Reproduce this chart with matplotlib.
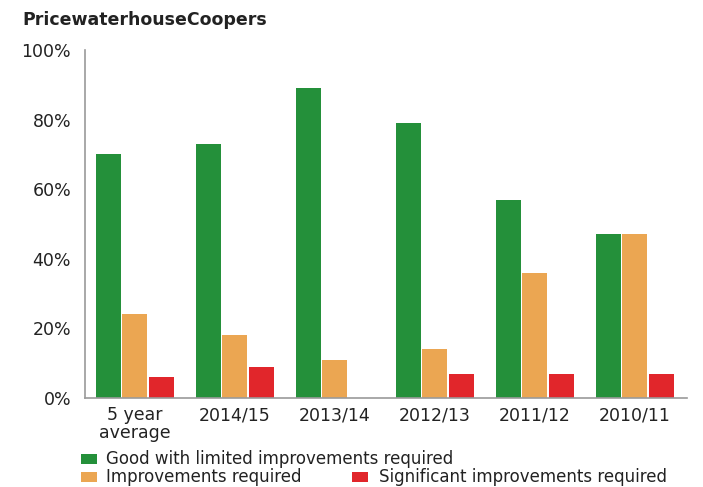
import matplotlib
matplotlib.use("Agg")
import matplotlib.pyplot as plt
from matplotlib.patches import Rectangle
import numpy as np

# Audit outcome shares by period
categories = ["5 year\naverage", "2014/15", "2013/14", "2012/13", "2011/12", "2010/11"]
good_limited = [70, 73, 89, 79, 57, 47]
improvements = [24, 18, 11, 14, 36, 47]
significant = [6, 9, 0, 7, 7, 7]
series_labels = [
    "Good with limited improvements required",
    "Improvements required",
    "Significant improvements required",
]
y_ticks = [0, 20, 40, 60, 80, 100]

colors = ["#24903A", "#EBA652", "#E1262B"]
text_color = "#222222"

plt.rcParams["font.family"] = ["DejaVu Sans"]

fig = plt.figure(figsize=(7.03, 4.87), dpi=100)
ax = fig.add_axes([0.1209, 0.1828, 0.8563, 0.7145])

x = np.arange(len(categories))
width = 0.25
offsets = [-0.265, 0.0, 0.265]
for vals, off, col in zip([good_limited, improvements, significant], offsets, colors):
    ax.bar(x + off, vals, width=width, color=col, edgecolor="none")

ax.set_xlim(-0.5, 5.52)
ax.set_ylim(0, 100)
ax.set_yticks(y_ticks)
ax.set_yticklabels([f"{v}%" for v in y_ticks])
ax.set_xticks(x)
ax.set_xticklabels(categories, linespacing=0.95)
ax.tick_params(axis="both", length=0, labelsize=12.5, colors=text_color)
ax.tick_params(axis="y", pad=10)
ax.tick_params(axis="x", pad=6)
for side in ["top", "right"]:
    ax.spines[side].set_visible(False)
for side in ["left", "bottom"]:
    ax.spines[side].set_color("#9a9a9a")
    ax.spines[side].set_linewidth(1.2)

fig.text(22 / 703, 1 - 20 / 487, "PricewaterhouseCoopers", fontsize=12.5,
         fontweight="bold", color=text_color, va="center", ha="left")

# Legend laid out as in a flowing key: one item on the first row, two on the second
W, H = 703, 487
items = [
    (81, 459, 106, colors[0], series_labels[0]),
    (81, 477, 106, colors[1], series_labels[1]),
    (352, 477, 379, colors[2], series_labels[2]),
]
for sx, sy, tx, col, lab in items:
    fig.patches.append(Rectangle((sx / W, 1 - (sy + 5) / H), 16 / W, 10 / H,
                                 transform=fig.transFigure, facecolor=col,
                                 edgecolor="none"))
    fig.text(tx / W, 1 - sy / H, lab, fontsize=12, color=text_color,
             va="center", ha="left")

fig.savefig("out.png", dpi=100)
